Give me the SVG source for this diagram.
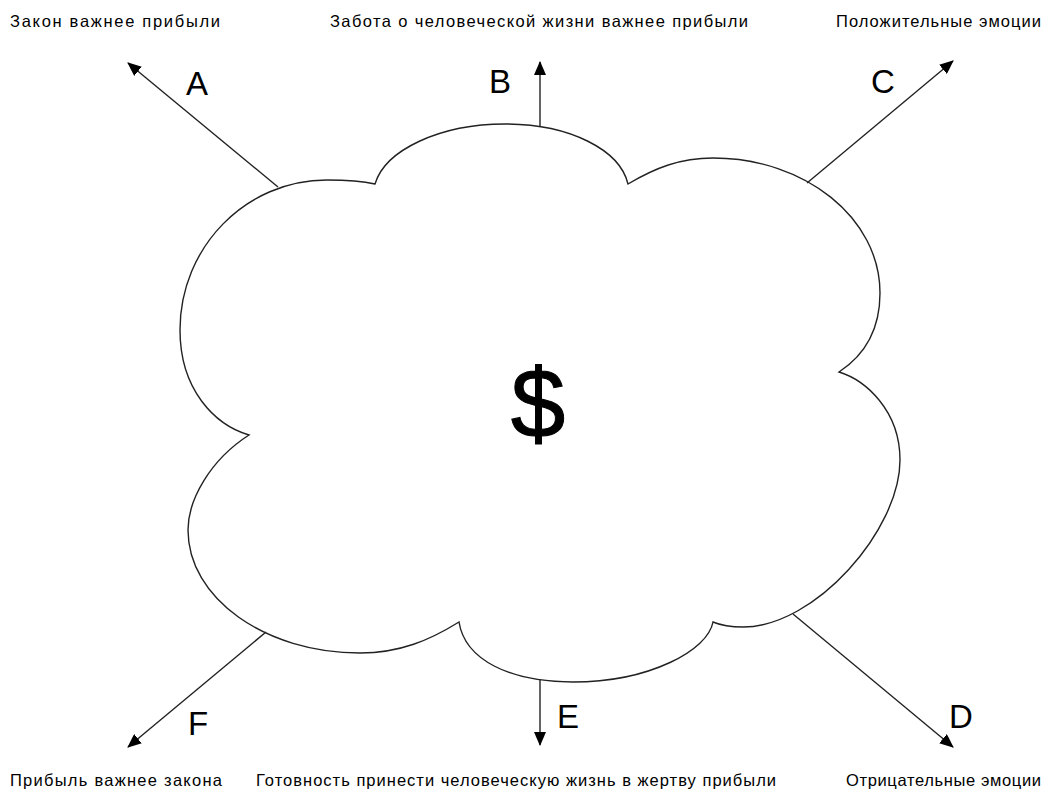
<svg xmlns="http://www.w3.org/2000/svg" width="1050" height="791" viewBox="0 0 1050 791">
<style>
.lbl{font-family:"Liberation Sans",Arial,sans-serif;font-size:16.5px;fill:#000}
.let{font-family:"Liberation Sans",Arial,sans-serif;font-size:33px;fill:#000;text-anchor:middle}
.cloud{fill:#fff;stroke:#222;stroke-width:1.4}
.conn{stroke:#222;stroke-width:1.4;fill:none;marker-end:url(#arr)}
</style>
<defs>
<marker id="arr" markerUnits="userSpaceOnUse" markerWidth="14" markerHeight="12" refX="13" refY="6" orient="auto">
<path d="M0,0 L14,6 L0,12 Z" fill="#000"/>
</marker>
</defs>
<rect width="1050" height="791" fill="#fff"/>
<g id="cloud">
<path class="cloud" d="M249 435 C215 425 180 390 180 330 C180 247 246 180 327 180 C345 180 362 181 375 184 C385 150 440 124 505 124 C570 124 620 150 628 184 C655 168 680 158 713 158 C805 158 880 218 880 293 C880 330 865 355 839 372 C865 380 900 410 900 460 C900 530 815 627 743 627 C730 627 720 625 713 622 C708 650 650 682 573 682 C510 682 465 660 459 622 C430 640 400 653 360 653 C265 653 188 598 188 530 C188 500 210 460 249 435 Z"/>
<text x="538" y="437" font-family="Liberation Sans, Arial, sans-serif" font-size="98" text-anchor="middle" stroke="#000" stroke-width="1">$</text>
</g>
<g id="connectors">
<line class="conn" x1="278" y1="187" x2="128" y2="63"/>
<line class="conn" x1="540" y1="127" x2="540" y2="62"/>
<line class="conn" x1="807" y1="183" x2="953" y2="61"/>
<line class="conn" x1="793" y1="614" x2="953" y2="747"/>
<line class="conn" x1="540" y1="680" x2="540" y2="745"/>
<line class="conn" x1="266" y1="632" x2="128" y2="747"/>
</g>
<g id="node-A">
<text class="let" x="197" y="95">A</text>
<text class="lbl" x="10" y="27" textLength="210" lengthAdjust="spacing">Закон важнее прибыли</text>
</g>
<g id="node-B">
<text class="let" x="500" y="93">B</text>
<text class="lbl" x="330" y="27" textLength="418" lengthAdjust="spacing">Забота о человеческой жизни важнее прибыли</text>
</g>
<g id="node-C">
<text class="let" x="883" y="93">C</text>
<text class="lbl" x="836" y="27" textLength="205" lengthAdjust="spacing">Положительные эмоции</text>
</g>
<g id="node-D">
<text class="let" x="961" y="728">D</text>
<text class="lbl" x="846" y="786" textLength="195" lengthAdjust="spacing">Отрицательные эмоции</text>
</g>
<g id="node-E">
<text class="let" x="568" y="728">E</text>
<text class="lbl" x="256" y="786" textLength="520" lengthAdjust="spacing">Готовность принести человеческую жизнь в жертву прибыли</text>
</g>
<g id="node-F">
<text class="let" x="198" y="735">F</text>
<text class="lbl" x="10" y="786" textLength="212" lengthAdjust="spacing">Прибыль важнее закона</text>
</g>
</svg>
